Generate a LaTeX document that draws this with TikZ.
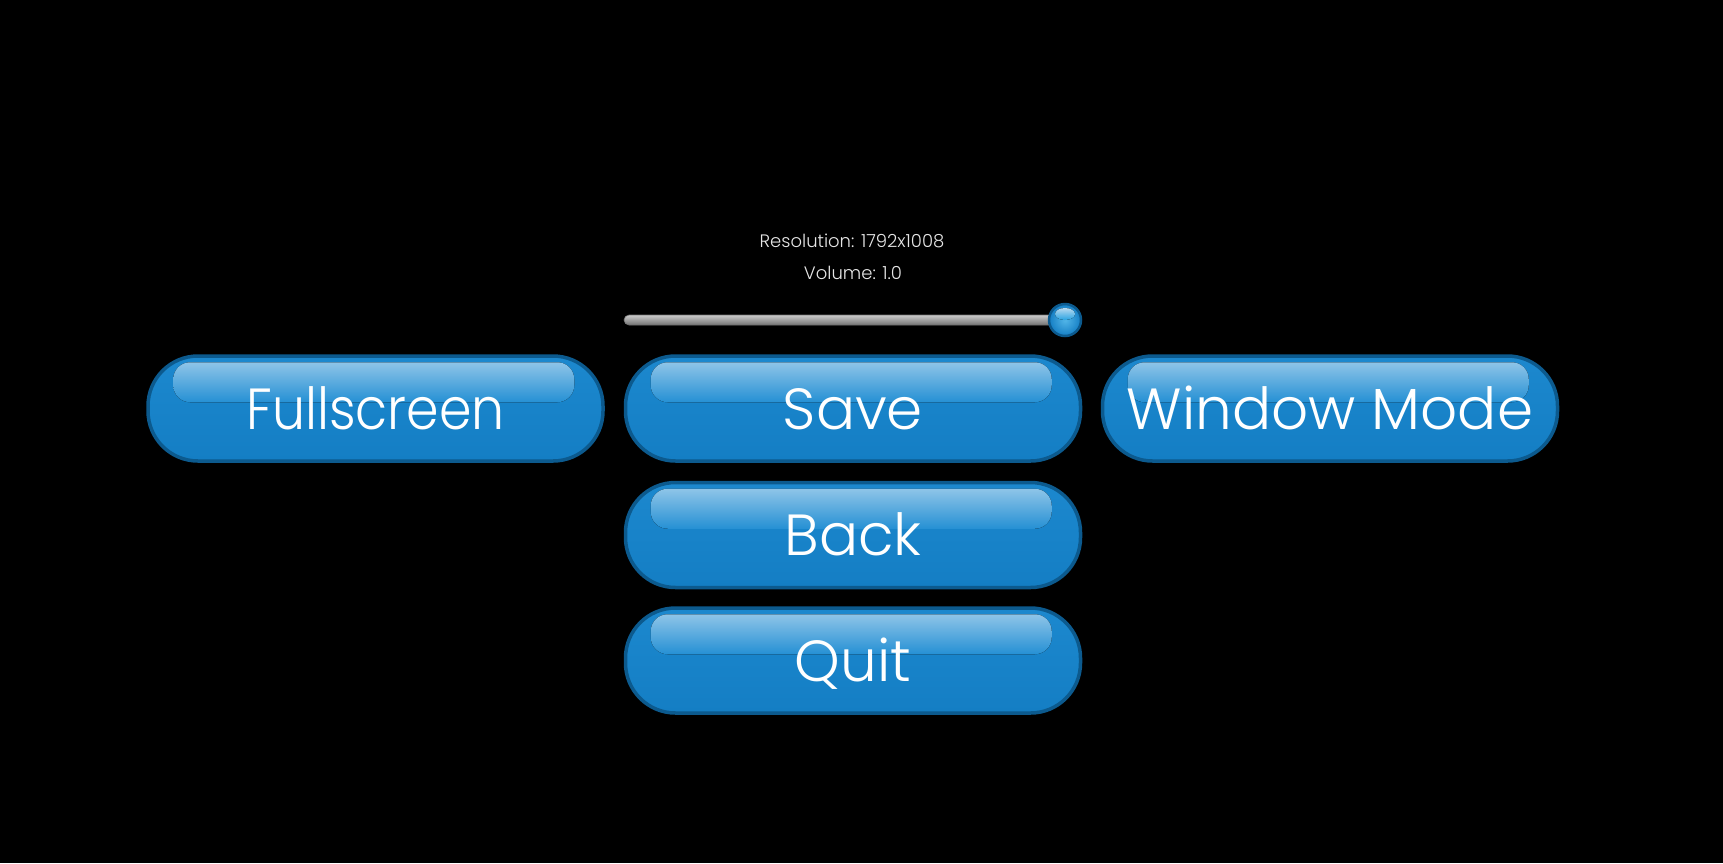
\documentclass[tikz,border=0pt]{standalone}
\usepackage{fontspec}
\setmainfont{Poppins}[UprightFont={* Light}]
\definecolor{btnedge}{HTML}{0C5A8E}
\definecolor{btntop}{HTML}{1C88CE}
\definecolor{btnmid}{HTML}{27A3E2}
\definecolor{btnbot}{HTML}{147EC4}
\definecolor{hltop}{HTML}{A3CFEC}
\definecolor{hlbot}{HTML}{2590D4}
\definecolor{smalltext}{HTML}{E6E6E6}
\tikzset{
  btnbody/.style={rectangle, minimum width=455pt, minimum height=105pt, inner sep=0pt,
    rounded corners=50pt, draw=btnedge, line width=3.5pt,
    top color=btntop, middle color=btnmid, bottom color=btnbot},
  btnhl/.style={rounded corners=17pt, top color=hltop, bottom color=hlbot},
  btntext/.style={anchor=base, text=white, inner sep=0pt, font=\fontsize{58}{60}\selectfont},
  smalllabel/.style={anchor=base, text=smalltext, inner sep=0pt, font=\fontsize{18}{20}\selectfont},
}
\newcommand\glossbutton[4]{%
  \node[btnbody] (#1) at (#2,#3) {};
  \fill[btnhl] (#1.north west) ++(27,8) rectangle ++(401,40);
  \node[btntext] (#1txt) at ([yshift=-20.5pt]#1.center) {#4};
}
\begin{document}
\begin{tikzpicture}[x=1pt,y=-1pt]
\fill[black] (0,0) rectangle (1723,863);
\useasboundingbox (0,0) rectangle (1723,863);
% labels
\node[smalllabel] (res) at (852,247.5) {Resolution: 1792x1008};
\node[smalllabel] (vol) at (853,279) {Volume: 1.0};
% slider
\node[rectangle, minimum width=438pt, minimum height=10pt, inner sep=0pt, rounded corners=5pt,
  draw=black!55, line width=0.6pt, top color=black!20, middle color=white, bottom color=black!55] (track) at (843,320) {};
\node[circle, minimum size=32pt, inner sep=0pt, draw=btnedge, line width=2.5pt,
  inner color=btnmid!80!white, outer color=btnbot] (knob) at (1065,320) {};
\fill[top color=hltop!80!white, bottom color=btnmid] ([yshift=6pt]knob.center) ellipse (10pt and 6pt);
% buttons
\glossbutton{full}{375.5}{408.5}{\scalebox{0.9}[1]{Fullscreen}}
\glossbutton{save}{853}{408.5}{Save}
\glossbutton{win}{1330}{408.5}{Window Mode}
\glossbutton{back}{853}{535}{Back}
\glossbutton{quit}{853}{660.5}{Quit}
\end{tikzpicture}
\end{document}
